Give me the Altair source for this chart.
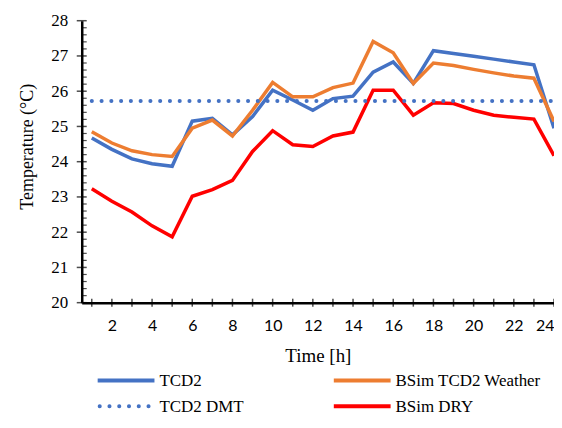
import altair as alt
import pandas as pd

hours = list(range(1, 25))
tcd2 = [24.67, 24.35, 24.08, 23.94, 23.87, 25.15, 25.23, 24.76, 25.28, 26.03, 25.75, 25.46,
        25.79, 25.86, 26.54, 26.83, 26.22, 27.15, 27.07, 26.99, 26.91, 26.83, 26.75, 24.95]
bsim_weather = [24.85, 24.53, 24.31, 24.20, 24.15, 24.95, 25.18, 24.73, 25.46, 26.25, 25.84, 25.84,
                26.10, 26.23, 27.41, 27.09, 26.22, 26.80, 26.73, 26.62, 26.52, 26.43, 26.37, 25.14]
bsim_dry = [23.23, 22.88, 22.57, 22.18, 21.87, 23.02, 23.21, 23.47, 24.29, 24.88, 24.48, 24.43,
            24.73, 24.84, 26.03, 26.03, 25.32, 25.67, 25.65, 25.46, 25.32, 25.26, 25.21, 24.17]
dmt_value = 25.72

series_names = ["TCD2", "BSim TCD2 Weather", "TCD2 DMT", "BSim DRY"]
series_colors = ["#4472C4", "#ED7D31", "#4472C4", "#FF0000"]
x_labels = [2, 4, 6, 8, 10, 12, 14, 16, 18, 20, 22, 24]
y_major = [20, 21, 22, 23, 24, 25, 26, 27, 28]
y_minor = [round(20 + 0.2 * i, 1) for i in range(41) if i % 5 != 0]

rows = []
for name, vals in [("TCD2", tcd2), ("BSim TCD2 Weather", bsim_weather),
                   ("TCD2 DMT", [dmt_value] * len(hours)), ("BSim DRY", bsim_dry)]:
    for h, v in zip(hours, vals):
        rows.append({"series": name, "hour": h, "temp": v})
df = pd.DataFrame(rows)

serif = "Liberation Serif"
sans = "Lato"
W, H = 474, 283

x_enc = alt.X("hour:Q",
              scale=alt.Scale(domain=[0.5, 24], nice=False, zero=False),
              axis=alt.Axis(title="Time [h]", values=x_labels, format="d",
                            grid=False, ticks=False, tickSize=0, labelPadding=15,
                            titlePadding=13, labelOverlap=False,
                            labelFont=sans, labelFontSize=16))
y_enc = alt.Y("temp:Q",
              scale=alt.Scale(domain=[20, 28], nice=False, zero=False),
              axis=alt.Axis(title="Temperature (°C)", values=y_major, format="d",
                            grid=False, ticks=False, tickSize=0, labelPadding=14,
                            titlePadding=14, labelOverlap=False, titleY=126,
                            labelFont=serif, labelFontSize=17, titleFontSize=18))
color_enc = alt.Color("series:N",
                      scale=alt.Scale(domain=series_names, range=series_colors),
                      legend=None)

solid = alt.Chart(df).transform_filter(
    alt.datum.series != "TCD2 DMT"
).mark_line(strokeWidth=3.5).encode(x=x_enc, y=y_enc, color=color_enc, detail="series:N")

dotted = alt.Chart(df).transform_filter(
    alt.datum.series == "TCD2 DMT"
).mark_line(strokeWidth=4, strokeDash=[0.1, 9.7], strokeCap="round").encode(
    x=x_enc, y=y_enc, color=color_enc)

xt = alt.Chart(pd.DataFrame({"hour": hours})).mark_tick(
    color="black", size=8, thickness=1.5).encode(x=x_enc, y=alt.value(H))
ymaj = alt.Chart(pd.DataFrame({"temp": y_major})).mark_tick(
    color="black", size=10, thickness=1.5).encode(y=y_enc, x=alt.value(0))
ymin = alt.Chart(pd.DataFrame({"temp": y_minor})).mark_tick(
    color="black", size=5, thickness=1.2).encode(y=y_enc, x=alt.value(2.5))

# legend (2 columns x 2 rows)
leg_x = [16, 253, 16, 253]
leg_y = [361, 361, 387, 387]
one = pd.DataFrame({"k": [0]})
legend_layers = []
for name, col, lx, ly in zip(series_names, series_colors, leg_x, leg_y):
    if name == "TCD2 DMT":
        sw = alt.Chart(one).mark_rule(color=col, strokeWidth=4, strokeDash=[0.1, 9.7],
                                      strokeCap="round").encode(
            x=alt.value(lx + 2), x2=alt.value(lx + 57), y=alt.value(ly))
    else:
        sw = alt.Chart(one).mark_rule(color=col, strokeWidth=4).encode(
            x=alt.value(lx), x2=alt.value(lx + 57), y=alt.value(ly))
    tx = alt.Chart(one).mark_text(text=name, font=serif, fontSize=17, color="black",
                                  align="left", baseline="middle").encode(
        x=alt.value(lx + 62), y=alt.value(ly + 1))
    legend_layers += [sw, tx]

chart = alt.layer(solid, dotted, xt, ymaj, ymin, *legend_layers).properties(
    width=W, height=H,
    autosize=alt.AutoSizeParams(type="none"),
    padding={"left": 74, "top": 12, "right": 0, "bottom": 117},
).configure_view(stroke=None).configure_axis(
    titleFont=serif, titleFontSize=19,
    labelColor="black", titleColor="black", titleFontWeight="normal",
    domainColor="black", domainWidth=2.5,
)

chart.save("out.html", embed_options={"renderer": "svg", "actions": False})
